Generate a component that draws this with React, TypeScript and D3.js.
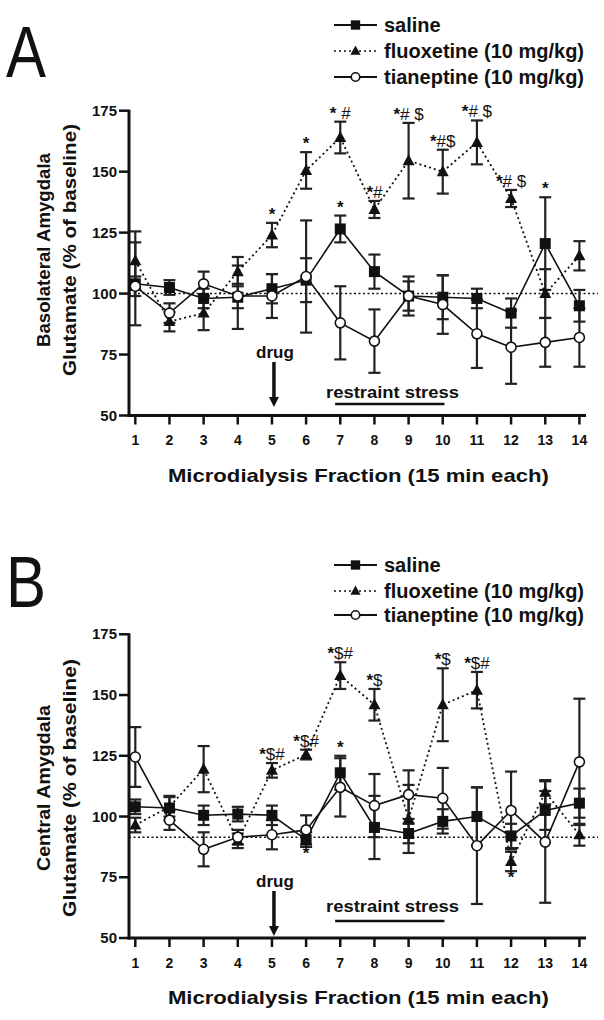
import React from 'react';
import * as d3 from 'd3';

// ---------- data ----------
const fractions = [1, 2, 3, 4, 5, 6, 7, 8, 9, 10, 11, 12, 13, 14];
const yTickValues = [50, 75, 100, 125, 150, 175];
const legendLabels = ['saline', 'fluoxetine (10 mg/kg)', 'tianeptine (10 mg/kg)'];

// Panel A: Basolateral Amygdala
const salineA = [104, 102.5, 98, 98.5, 102, 105.5, 126.5, 109, 99, 98.5, 98, 92, 120.5, 95];
const salineAErr = [17, 3, 4, 13, 6, 9, 5.5, 7, 8, 9, 4, 6, 19, 6.5];
const fluoxA = [113.5, 88.5, 92, 109, 124, 150.5, 164, 134.5, 154.5, 150, 162, 139, 100, 115.5];
const fluoxAErr = [12, 4, 7, 6, 5, 7.5, 6.5, 3.5, 15.5, 9, 9, 3.5, 10, 6];
const tianA = [103, 92, 104, 99, 99, 107, 88, 80.5, 99, 95.5, 83.5, 78, 80, 82];
const tianAErr = [4, 4, 5, 5, 9, 23, 15, 13, 6, 12, 14, 15, 10, 12];
const refLineA = 100;

// Panel B: Central Amygdala
const salineB = [104, 103.5, 100.5, 101, 100.5, 90.5, 118, 95.5, 93, 98, 100, 92, 102.5, 105.5];
const salineBErr = [3, 5, 4, 3, 4, 3, 7, 13, 4, 5, 12, 5, 8, 6];
const fluoxB = [96.5, 104, 119.5, 90, 119, 125.5, 158, 146, 99, 146, 152, 81.5, 110, 92.5];
const fluoxBErr = [3, 4, 9.5, 3, 3, 2, 5.5, 6.5, 14, 15, 7.5, 4, 5, 4.5];
const tianB = [124.5, 98.5, 86.5, 91.5, 92.5, 94.5, 112, 104.5, 109, 107.5, 88, 102.5, 89.5, 122.5];
const tianBErr = [12.3, 4, 7, 3, 6, 6, 12, 13, 10, 12.5, 24, 16, 25, 26];
const refLineB = 91.5;

// significance marks: [fraction, series, label, position]
const marksA: [number, string, string, string][] = [
  [5, 'fluox', '*', 'above'],
  [6, 'fluox', '*', 'above'],
  [7, 'fluox', '* #', 'above'],
  [7, 'saline', '*', 'above'],
  [8, 'fluox', '*#', 'above'],
  [9, 'fluox', '*# $', 'above'],
  [10, 'fluox', '*#$', 'above'],
  [11, 'fluox', '*# $', 'above'],
  [12, 'fluox', '*# $', 'above'],
  [13, 'saline', '*', 'above'],
];
const marksB: [number, string, string, string][] = [
  [5, 'fluox', '*$#', 'above'],
  [6, 'fluox', '*$#', 'above'],
  [7, 'fluox', '*$#', 'above'],
  [7, 'saline', '*', 'above'],
  [8, 'fluox', '*$', 'above'],
  [10, 'fluox', '*$', 'above'],
  [11, 'fluox', '*$#', 'above'],
  [6, 'saline', '*', 'below'],
  [12, 'fluox', '*', 'below'],
];

const drugFraction = 5;
const stressRange = [6.85, 10.05];

// ---------- drawing ----------
const FONT = "'Liberation Sans', Arial, Helvetica, sans-serif";
const INK = '#111';

type PanelProps = {
  letter: string;
  letterBaseline: number;
  region: string;
  regionLen: number;
  labelLen: number;
  labelCenter: number;
  y50: number;
  y175: number;
  saline: number[];
  salineErr: number[];
  fluox: number[];
  fluoxErr: number[];
  tian: number[];
  tianErr: number[];
  refLine: number;
  marks: [number, string, string, string][];
  legendRows: number[];
  drugBaseline: number;
  arrowTop: number;
  arrowTip: number;
  stressBaseline: number;
  stressBarY: number;
  titleBaseline: number;
};

function Marker({ kind, cx, cy, s = 1 }: { kind: string; cx: number; cy: number; s?: number }) {
  if (kind === 'square') {
    const h = 5.5 * s;
    return <rect x={cx - h} y={cy - h} width={2 * h} height={2 * h} fill={INK} />;
  }
  if (kind === 'triangle') {
    return (
      <path
        d={`M${cx},${cy - 6.5 * s}L${cx + 6 * s},${cy + 4.5 * s}L${cx - 6 * s},${cy + 4.5 * s}Z`}
        fill={INK}
      />
    );
  }
  return <circle cx={cx} cy={cy} r={5 * s} fill="#fff" stroke={INK} strokeWidth={1.6} />;
}

function Mark({ lab, x, y }: { lab: string; x: number; y: number }) {
  return (
    <text x={x} y={y} textAnchor="middle" fontFamily={FONT} fontSize={17} fill={INK}>
      {lab.split('').map((c, i) => (
        <tspan key={i} fontWeight={c === '*' ? 'bold' : 'normal'}>
          {c}
        </tspan>
      ))}
    </text>
  );
}

function Panel(p: PanelProps) {
  const x = d3.scaleLinear().domain([1, 14]).range([135.3, 579.4]);
  const y = d3.scaleLinear().domain([50, 175]).range([p.y50, p.y175]);
  const axisX = 129;

  const series = [
    { key: 'saline', vals: p.saline, errs: p.salineErr, dash: undefined, marker: 'square' },
    { key: 'fluox', vals: p.fluox, errs: p.fluoxErr, dash: '2,3', marker: 'triangle' },
    { key: 'tian', vals: p.tian, errs: p.tianErr, dash: undefined, marker: 'circle' },
  ];
  const line = d3
    .line<number>()
    .x((_, i) => x(fractions[i]))
    .y((d) => y(d));

  const lookup: Record<string, { vals: number[]; errs: number[] }> = {};
  series.forEach((s) => (lookup[s.key] = s));

  const legendX0 = 334;
  const legendX1 = 377;
  const legendMarkers = ['square', 'triangle', 'circle'];

  return (
    <g>
      {/* panel letter */}
      <text
        x={6}
        y={p.letterBaseline}
        fontFamily={FONT}
        fontSize={72}
        textLength={40}
        lengthAdjust="spacingAndGlyphs"
        fill={INK}
      >
        {p.letter}
      </text>

      {/* legend */}
      {legendLabels.map((lab, i) => {
        const cy = p.legendRows[i];
        return (
          <g key={lab}>
            <line
              x1={legendX0}
              x2={legendX1}
              y1={cy}
              y2={cy}
              stroke={INK}
              strokeWidth={i === 1 ? 1.5 : 2}
              strokeDasharray={i === 1 ? '2,3' : undefined}
            />
            <Marker kind={legendMarkers[i]} cx={(legendX0 + legendX1) / 2} cy={cy} s={0.85} />
            <text
              x={384}
              y={cy + 7}
              fontFamily={FONT}
              fontWeight="bold"
              fontSize={20}
              fill={INK}
            >
              {lab}
            </text>
          </g>
        );
      })}

      {/* y label */}
      <g transform={`translate(49.5,${p.labelCenter}) rotate(-90)`}>
        <text
          textAnchor="middle"
          fontFamily={FONT}
          fontWeight="bold"
          fontSize={18}
          textLength={p.regionLen}
          lengthAdjust="spacingAndGlyphs"
          fill={INK}
        >
          {p.region}
        </text>
      </g>
      <g transform={`translate(75.5,${p.labelCenter}) rotate(-90)`}>
        <text
          textAnchor="middle"
          fontFamily={FONT}
          fontWeight="bold"
          fontSize={18}
          textLength={p.labelLen}
          lengthAdjust="spacingAndGlyphs"
          fill={INK}
        >
          {'Glutamate (%  of baseline)'}
        </text>
      </g>

      {/* reference line */}
      <line
        x1={axisX}
        x2={598}
        y1={y(p.refLine)}
        y2={y(p.refLine)}
        stroke={INK}
        strokeWidth={1.5}
        strokeDasharray="2,2.5"
      />

      {/* error bars */}
      {series.map((s) =>
        s.vals.map((v, i) => {
          const cx = x(fractions[i]);
          const e = s.errs[i];
          return (
            <g key={s.key + i} stroke="#222" strokeWidth={2.2}>
              <line x1={cx} x2={cx} y1={y(v - e)} y2={y(v + e)} />
              <line x1={cx - 6} x2={cx + 6} y1={y(v - e)} y2={y(v - e)} />
              <line x1={cx - 6} x2={cx + 6} y1={y(v + e)} y2={y(v + e)} />
            </g>
          );
        })
      )}

      {/* lines */}
      {series.map((s) => (
        <path
          key={s.key}
          d={line(s.vals) || ''}
          fill="none"
          stroke={INK}
          strokeWidth={s.dash ? 1.8 : 1.6}
          strokeDasharray={s.dash}
        />
      ))}

      {/* markers */}
      {series.map((s) =>
        s.vals.map((v, i) => (
          <Marker key={s.key + 'm' + i} kind={s.marker} cx={x(fractions[i])} cy={y(v)} />
        ))
      )}

      {/* significance marks */}
      {p.marks.map(([f, key, lab, pos], k) => {
        const s = lookup[key];
        const i = fractions.indexOf(f);
        const v = s.vals[i];
        const e = s.errs[i];
        const ty = pos === 'above' ? y(v + e) - 3 : y(v - e) + 12;
        return <Mark key={'mk' + k} lab={lab} x={x(f)} y={ty} />;
      })}

      {/* drug arrow */}
      <text
        x={x(drugFraction) + 3}
        y={p.drugBaseline}
        textAnchor="middle"
        fontFamily={FONT}
        fontWeight="bold"
        fontSize={17}
        fill={INK}
      >
        drug
      </text>
      <line
        x1={x(drugFraction) + 2}
        x2={x(drugFraction) + 2}
        y1={p.arrowTop}
        y2={p.arrowTip - 8}
        stroke={INK}
        strokeWidth={3.5}
      />
      <path
        d={`M${x(drugFraction) + 2 - 5},${p.arrowTip - 10}L${x(drugFraction) + 2 + 5},${p.arrowTip - 10}L${x(drugFraction) + 2},${p.arrowTip}Z`}
        fill={INK}
      />

      {/* restraint stress */}
      <text
        x={326}
        y={p.stressBaseline}
        fontFamily={FONT}
        fontWeight="bold"
        fontSize={16}
        textLength={133}
        lengthAdjust="spacingAndGlyphs"
        fill={INK}
      >
        restraint stress
      </text>
      <line
        x1={x(stressRange[0])}
        x2={x(stressRange[1])}
        y1={p.stressBarY}
        y2={p.stressBarY}
        stroke={INK}
        strokeWidth={2.5}
      />

      {/* axes */}
      <line x1={axisX} x2={axisX} y1={y(175) - 1} y2={y(50) + 1.5} stroke={INK} strokeWidth={3} />
      <line x1={axisX - 1.5} x2={586} y1={y(50)} y2={y(50)} stroke={INK} strokeWidth={3} />
      {yTickValues.map((t) => (
        <g key={'yt' + t}>
          <line x1={axisX - 10} x2={axisX} y1={y(t)} y2={y(t)} stroke={INK} strokeWidth={2.5} />
          <text
            x={axisX - 12}
            y={y(t) + 5}
            textAnchor="end"
            fontFamily={FONT}
            fontWeight="bold"
            fontSize={15}
            fill={INK}
          >
            {t}
          </text>
        </g>
      ))}
      {fractions.map((f) => (
        <g key={'xt' + f}>
          <line x1={x(f)} x2={x(f)} y1={y(50)} y2={y(50) + 9} stroke={INK} strokeWidth={2.5} />
          <text
            x={x(f)}
            y={y(50) + 29.5}
            textAnchor="middle"
            fontFamily={FONT}
            fontWeight="bold"
            fontSize={14}
            fill={INK}
          >
            {f}
          </text>
        </g>
      ))}
      <text
        x={358.4}
        y={p.titleBaseline}
        textAnchor="middle"
        fontFamily={FONT}
        fontWeight="bold"
        fontSize={19}
        textLength={381}
        lengthAdjust="spacingAndGlyphs"
        fill={INK}
      >
        Microdialysis Fraction (15 min each)
      </text>
    </g>
  );
}

export default function App() {
  return (
    <svg
      width={604}
      height={1020}
      style={{ position: 'absolute', left: 0, top: 0, background: '#fff' }}
    >
      <rect width={604} height={1020} fill="#fff" />
      <Panel
        letter="A"
        letterBaseline={77}
        region="Basolateral Amygdala"
        regionLen={194}
        labelLen={252}
        labelCenter={250}
        y50={415.5}
        y175={110.7}
        saline={salineA}
        salineErr={salineAErr}
        fluox={fluoxA}
        fluoxErr={fluoxAErr}
        tian={tianA}
        tianErr={tianAErr}
        refLine={refLineA}
        marks={marksA}
        legendRows={[25, 51, 77]}
        drugBaseline={358}
        arrowTop={362}
        arrowTip={407}
        stressBaseline={398}
        stressBarY={404}
        titleBaseline={481.5}
      />
      <Panel
        letter="B"
        letterBaseline={607}
        region="Central Amygdala"
        regionLen={166}
        labelLen={258}
        labelCenter={788}
        y50={938}
        y175={634.3}
        saline={salineB}
        salineErr={salineBErr}
        fluox={fluoxB}
        fluoxErr={fluoxBErr}
        tian={tianB}
        tianErr={tianBErr}
        refLine={refLineB}
        marks={marksB}
        legendRows={[565, 591, 615]}
        drugBaseline={887}
        arrowTop={891}
        arrowTip={936}
        stressBaseline={912}
        stressBarY={921}
        titleBaseline={1004}
      />
    </svg>
  );
}
